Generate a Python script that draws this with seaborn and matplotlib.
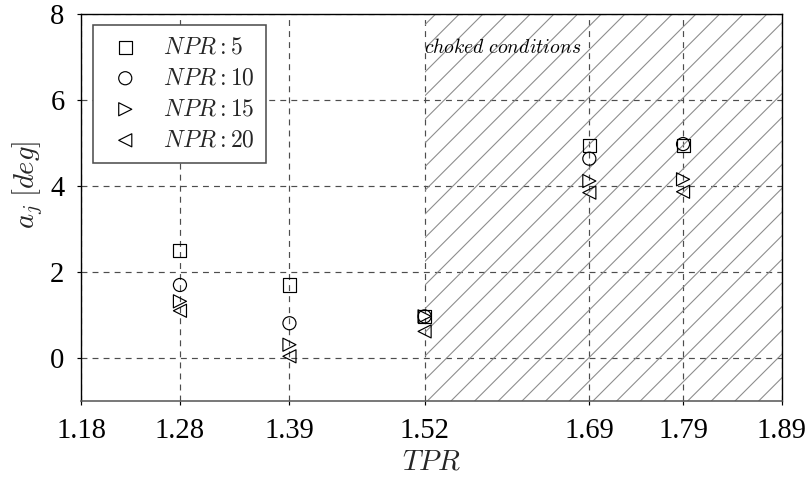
import matplotlib
matplotlib.use("Agg")
import matplotlib.pyplot as plt
import seaborn as sns
import numpy as np
import pandas as pd

# ---- data ----
tpr = [1.28, 1.391, 1.528, 1.695, 1.79]
npr5 = [2.50, 1.70, 0.97, 4.94, 4.94]
npr10 = [1.70, 0.81, 0.97, 4.64, 4.98]
npr15 = [1.32, 0.31, 0.97, 4.12, 4.16]
npr20 = [1.10, 0.04, 0.62, 3.85, 3.87]
series_labels = [r"$NPR:5$", r"$NPR:10$", r"$NPR:15$", r"$NPR:20$"]
series_markers = ["s", "o", ">", "<"]
xtick_vals = [1.18, 1.28, 1.391, 1.528, 1.695, 1.79, 1.89]
xtick_labels = ["1.18", "1.28", "1.39", "1.52", "1.69", "1.79", "1.89"]
ytick_vals = [0, 2, 4, 6, 8]
choked_start = 1.528
choked_end = 1.89
choked_text = r"$choked\ conditions$"

DPI = 142
W, H = 807, 478

sns.set_theme(style="white")
plt.rcParams["font.family"] = ["Liberation Serif", "DejaVu Serif"]
plt.rcParams["mathtext.fontset"] = "cm"
plt.rcParams["hatch.linewidth"] = 0.55
plt.rcParams["lines.scale_dashes"] = False

fig = plt.figure(figsize=(W / DPI, H / DPI), dpi=DPI)
ax = fig.add_axes([81.3 / W, 1 - 401 / H, (781.7 - 81.3) / W, (401 - 14.3) / H])

# hatched choked region
ax.axvspan(choked_start, choked_end, facecolor="none", edgecolor="0.55",
           hatch="//", linewidth=0, zorder=1)

series = [npr5, npr10, npr15, npr20]
for vals, lab, mk in zip(series, series_labels, series_markers):
    df = pd.DataFrame({"TPR": tpr, "a": vals})
    sns.scatterplot(data=df, x="TPR", y="a", marker=mk, s=44,
                    facecolors="none", edgecolor="black", linewidth=0.6,
                    label=lab, ax=ax, zorder=3)
for coll in ax.collections:
    coll.set_facecolor("none")
    coll.set_edgecolor("black")

ax.set_xlim(1.18, 1.89)
ax.set_ylim(-1, 8)
ax.set_xticks(xtick_vals)
ax.set_xticklabels(xtick_labels)
ax.set_yticks(ytick_vals)
ax.tick_params(axis="both", direction="out", length=2, width=0.6,
               color="black", labelsize=14.5, pad=6.5, labelcolor="black")
ax.tick_params(bottom=True, left=True, top=False, right=False)

ax.grid(True, color="0.3", linestyle=(0, (3, 2.6)), linewidth=0.6)

for side in ["left", "top", "right"]:
    ax.spines[side].set_color("black")
    ax.spines[side].set_linewidth(0.7)
ax.spines["bottom"].set_color("0.35")
ax.spines["bottom"].set_linewidth(0.8)

ax.set_xlabel(r"$TPR$", fontsize=14.5, labelpad=3)
ax.set_ylabel(r"$a_j\;[deg]$", fontsize=14.5)
ax.yaxis.set_label_coords(-0.052, 0.56)

ax.text(0.4897, 0.912, choked_text, transform=ax.transAxes, fontsize=10,
        ha="left", va="center", color="black", zorder=4)

leg = ax.legend(loc="upper left", bbox_to_anchor=(0.0163, 0.9723),
                borderaxespad=0, fontsize=12, frameon=True, fancybox=False,
                framealpha=1, edgecolor="0.3", borderpad=0.5,
                handlelength=1.75, handletextpad=0.7, labelspacing=0.4)
leg.get_frame().set_linewidth(0.8)
leg.set_zorder(5)

fig.savefig("out.png", dpi=DPI)
